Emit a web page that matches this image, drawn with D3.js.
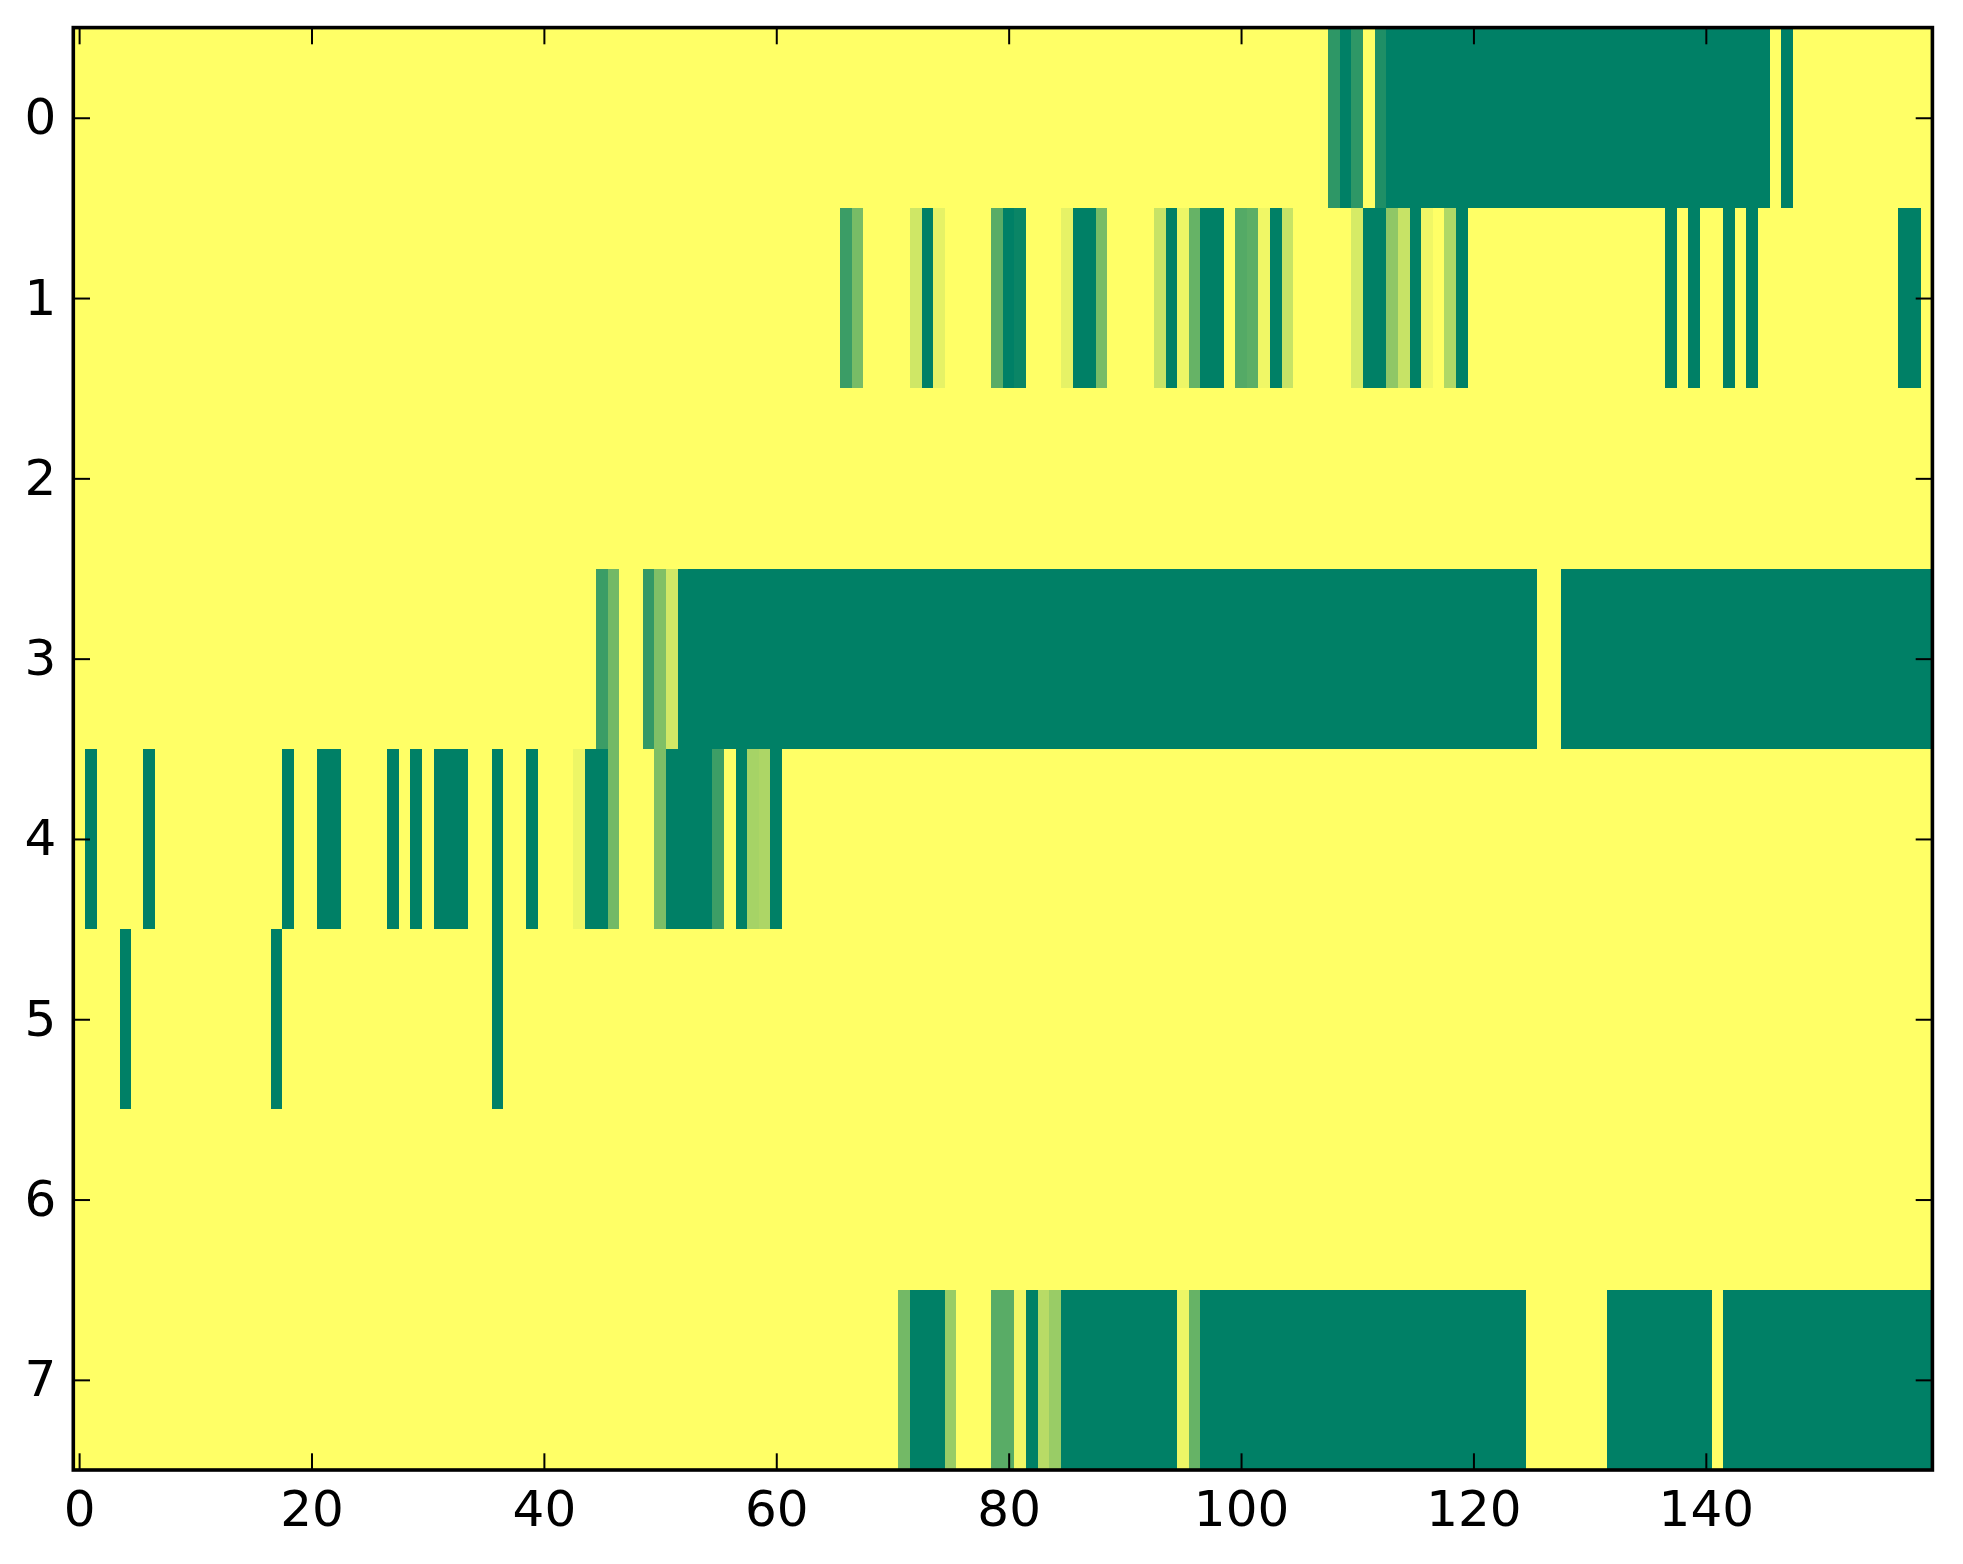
<!DOCTYPE html>
<meta charset="utf-8">
<body style="margin:0; background:#fff;">
<script src="https://d3js.org/d3.v7.min.js"></script>
<svg id="chart" width="1963" height="1564"></svg>
<script>
// grid size
var nCols = 160;
var rowLabels = [0, 1, 2, 3, 4, 5, 6, 7];
var xTicks = [0, 20, 40, 60, 80, 100, 120, 140];

// runs of non-zero cells per row: [firstCol, lastCol, value]  (everything else is 0)
var row0 = [[108,108,0.82],[109,109,1],[110,110,0.82],[112,112,0.88],[113,145,1],[147,147,1]];
var row1 = [[66,66,0.77],[67,67,0.53],[72,72,0.19],[73,73,1],[74,74,0.1],[79,79,0.65],[80,80,1],[81,81,0.96],
            [85,85,0.1],[86,87,1],[88,88,0.53],[93,93,0.22],[94,94,1],[95,95,0.07],[96,96,0.6],[97,98,1],
            [100,100,0.67],[101,101,0.64],[102,102,0.06],[103,103,1],[104,104,0.22],[110,110,0.16],[111,112,1],
            [113,113,0.44],[114,114,0.22],[115,115,1],[116,116,0.06],[118,118,0.31],[119,119,1],
            [137,137,1],[139,139,1],[142,142,1],[144,144,1],[157,158,1]];
var row2 = [];
var row3 = [[45,45,0.77],[46,46,0.55],[49,49,0.8],[50,50,0.5],[51,51,0.18],[52,125,1],[128,159,1]];
var row4 = [[1,1,1],[6,6,1],[18,18,1],[21,22,1],[27,27,1],[29,29,1],[31,33,1],[36,36,1],[39,39,1],
            [43,43,0.07],[44,45,1],[46,46,0.55],[50,50,0.51],[51,54,1],[55,55,0.76],[57,57,1],
            [58,58,0.35],[59,59,0.32],[60,60,1]];
var row5 = [[4,4,1],[17,17,1],[36,36,1]];
var row6 = [];
var row7 = [[71,71,0.55],[72,74,1],[75,75,0.4],[79,80,0.65],[81,81,0.06],[82,82,1],[83,83,0.28],
            [84,84,0.4],[85,94,1],[95,95,0.07],[96,96,0.6],[97,124,1],[132,140,1],[142,159,1]];
var rows = [row0, row1, row2, row3, row4, row5, row6, row7];

var svg = d3.select("#chart");
var axLeft = 73.3, axRight = 1932.4, axTop = 27.6, axBottom = 1470;

var x = d3.scaleLinear().domain([-0.5, nCols - 0.5]).range([axLeft, axRight]);
var y = d3.scaleLinear().domain([-0.5, rowLabels.length - 0.5]).range([axTop, axBottom]);
// summer_r
var color = d3.scaleLinear().domain([0, 1]).range(["#ffff66", "#008066"]);

// background = value 0
svg.append("rect")
   .attr("x", axLeft).attr("y", axTop)
   .attr("width", axRight - axLeft).attr("height", axBottom - axTop)
   .attr("fill", color(0));

var cells = [];
rows.forEach(function(runs, r) {
   runs.forEach(function(run) {
      cells.push({row: r, c0: run[0], c1: run[1], v: run[2]});
   });
});

svg.append("g")
   .selectAll("rect")
   .data(cells)
   .enter()
   .append("rect")
     .attr("x", function(d) { return x(d.c0 - 0.5); })
     .attr("y", function(d) { return y(d.row - 0.5); })
     .attr("width", function(d) { return x(d.c1 + 0.5) - x(d.c0 - 0.5); })
     .attr("height", function(d) { return y(d.row + 0.5) - y(d.row - 0.5); })
     .attr("fill", function(d) { return color(d.v); })
     .attr("shape-rendering", "crispEdges");

var tickLen = 16.7;
function styleAxis(g) {
   g.select(".domain").remove();
   g.selectAll(".tick line").attr("stroke", "#000").attr("stroke-width", 2);
   g.selectAll(".tick text").attr("fill", "#000")
      .style("font-family", "'DejaVu Sans', sans-serif").style("font-size", "50px");
}

svg.append("g").attr("transform", "translate(0," + axBottom + ")")
   .call(d3.axisBottom(x).tickValues(xTicks).tickSize(-tickLen).tickPadding(20))
   .call(styleAxis);
svg.append("g").attr("transform", "translate(0," + axTop + ")")
   .call(d3.axisTop(x).tickValues(xTicks).tickSize(-tickLen).tickFormat(""))
   .call(styleAxis);
svg.append("g").attr("transform", "translate(" + axLeft + ",0)")
   .call(d3.axisLeft(y).tickValues(rowLabels).tickSize(-tickLen).tickPadding(17))
   .call(styleAxis);
svg.append("g").attr("transform", "translate(" + axRight + ",0)")
   .call(d3.axisRight(y).tickValues(rowLabels).tickSize(-tickLen).tickFormat(""))
   .call(styleAxis);

// frame
svg.append("rect")
   .attr("x", axLeft).attr("y", axTop)
   .attr("width", axRight - axLeft).attr("height", axBottom - axTop)
   .attr("fill", "none").attr("stroke", "#000").attr("stroke-width", 3.6);
</script>
</body>
